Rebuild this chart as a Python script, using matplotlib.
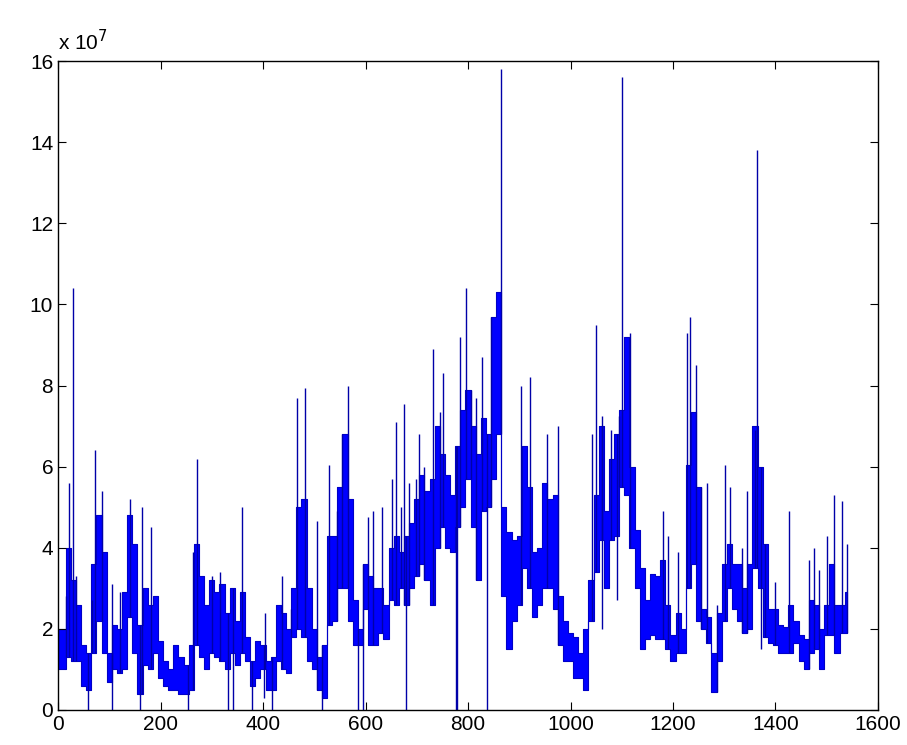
import matplotlib
matplotlib.use("Agg")
import matplotlib.pyplot as plt
import numpy as np

# all values in units of 1e7
# dense band: low / high envelope for blocks of 10 samples (block start 0, 10, ... 1540)
band_lo = [
    1.0, 1.0, 1.3, 1.2, 1.2, 0.6, 0.5, 1.4, 2.2, 1.4,
    0.7, 1.0, 0.9, 1.0, 2.3, 1.4, 0.4, 1.1, 1.0, 1.4,
    0.8, 0.6, 0.5, 0.5, 0.4, 0.4, 0.5, 1.6, 1.3, 1.0,
    1.4, 1.3, 1.2, 1.0, 1.4, 1.1, 1.4, 1.2, 0.6, 0.8,
    1.0, 0.5, 0.5, 1.2, 1.0, 0.9, 1.8, 2.0, 1.8, 1.2,
    1.0, 0.5, 0.3, 2.1, 2.2, 3.0, 3.0, 2.2, 1.6, 1.6,
    2.5, 1.6, 1.6, 1.9, 1.75, 2.7, 2.6, 3.0, 2.6, 3.0,
    3.3, 3.6, 3.2, 2.6, 4.0, 4.5, 4.0, 3.9, 4.5, 5.0,
    5.7, 4.5, 3.2, 4.9, 5.0, 5.7, 6.8, 2.8, 1.5, 2.2,
    2.6, 3.5, 3.0, 2.3, 2.6, 3.0, 3.0, 2.5, 1.6, 1.2,
    1.2, 0.8, 0.8, 0.5, 2.2, 3.4, 4.2, 3.0, 4.2, 4.3,
    5.5, 5.3, 4.0, 3.0, 1.5, 1.75, 1.85, 1.75, 1.75, 1.5,
    1.2, 1.4, 1.4, 3.0, 3.6, 2.2, 2.0, 1.65, 0.45, 1.2,
    2.2, 3.0, 2.5, 2.2, 1.9, 2.0, 3.5, 3.0, 1.8, 1.65,
    1.6, 1.4, 1.4, 1.4, 1.65, 1.2, 1.0, 1.4, 1.5, 1.0,
    1.85, 1.85, 1.4, 1.9, 1.9,
]
band_hi = [
    2.0, 2.0, 4.0, 3.2, 2.6, 1.6, 1.4, 3.6, 4.8, 3.9,
    1.4, 2.1, 2.0, 2.9, 4.8, 4.1, 2.1, 3.0, 2.6, 2.8,
    1.7, 1.2, 1.0, 1.6, 1.3, 1.1, 1.6, 4.1, 3.3, 2.6,
    3.2, 2.9, 3.1, 2.4, 3.0, 2.2, 2.9, 1.8, 1.2, 1.7,
    1.6, 1.2, 1.3, 2.6, 2.4, 2.0, 3.0, 5.0, 5.2, 3.0,
    2.0, 1.3, 1.6, 4.3, 4.3, 5.5, 6.8, 5.2, 2.7, 2.0,
    3.6, 3.3, 3.0, 3.0, 2.6, 4.0, 4.3, 3.9, 4.3, 4.6,
    5.2, 5.8, 5.4, 5.7, 7.0, 6.3, 5.8, 5.3, 6.5, 7.4,
    7.9, 7.0, 6.3, 7.2, 6.8, 9.7, 10.3, 5.0, 4.4, 4.2,
    4.3, 6.5, 5.5, 3.9, 4.0, 5.6, 5.2, 5.3, 2.8, 2.2,
    1.9, 1.8, 1.4, 2.0, 3.2, 5.3, 7.0, 4.9, 6.2, 6.8,
    7.4, 9.2, 6.0, 4.45, 3.5, 2.7, 3.35, 3.3, 3.7, 2.6,
    1.85, 2.4, 2.0, 6.05, 7.35, 5.5, 2.5, 2.3, 1.4, 2.4,
    3.6, 4.1, 3.6, 3.6, 3.0, 3.6, 7.0, 6.0, 4.1, 2.5,
    2.5, 2.1, 2.05, 2.6, 2.2, 1.85, 1.75, 2.7, 2.6, 2.0,
    2.6, 3.6, 2.6, 2.6, 2.9,
]
band_x = np.arange(len(band_lo)) * 10

# single-sample spikes above the band: (sample index, value)
spike_x = [15, 22, 29, 36, 66, 73, 85, 106, 120, 140, 163, 181, 264, 271, 300,
           316, 358, 404, 437, 455, 467, 481, 506, 529, 545, 555, 565, 605, 615,
           632, 651, 660, 670, 675, 685, 698, 705, 715, 732, 745, 752, 784, 796,
           805, 815, 827, 845, 864, 903, 920, 954, 976, 1042, 1050, 1062, 1080,
           1095, 1100, 1116, 1180, 1190, 1210, 1227, 1233, 1245, 1255, 1266,
           1285, 1302, 1311, 1335, 1345, 1360, 1364, 1380, 1400, 1426, 1465,
           1475, 1485, 1500, 1514, 1529, 1540]
spike_y = [2.8, 5.6, 10.4, 3.3, 2.7, 6.4, 5.4, 3.1, 2.9, 5.2, 5.0, 4.5, 3.9, 6.2,
           3.3, 3.4, 5.0, 2.4, 3.3, 2.5, 7.7, 7.95, 4.65, 6.05, 4.9, 6.8, 8.0,
           4.75, 4.9, 5.0, 5.7, 7.1, 5.0, 7.55, 5.6, 5.7, 6.8, 6.0, 8.9, 7.35,
           8.3, 9.2, 10.4, 7.9, 7.7, 8.7, 9.7, 15.8, 8.0, 8.2, 6.8, 7.0, 6.8,
           9.5, 7.25, 6.9, 7.25, 15.6, 9.3, 4.9, 4.3, 3.9, 9.3, 9.7, 8.5, 5.5,
           5.6, 2.6, 6.05, 5.5, 4.0, 5.4, 6.9, 13.8, 4.1, 3.15, 4.9, 3.7, 4.0,
           3.45, 4.3, 5.3, 5.15, 4.1]

# single-sample drops below the band: (sample index, value)
dip_x = [59, 105, 160, 254, 332, 342, 378, 401, 418, 516, 586, 596, 679, 776,
         779, 837, 1062, 1090, 1372]
dip_y = [0.0, 0.0, 0.0, 0.0, 0.0, 0.0, 0.0, 0.3, 0.0, 0.0, 0.0, 0.0, 0.0, 0.0,
         0.0, 0.0, 2.0, 2.7, 1.5]

xticks = [0, 200, 400, 600, 800, 1000, 1200, 1400, 1600]
yticks = [0, 2, 4, 6, 8, 10, 12, 14, 16]

plt.rcParams['font.family'] = ['Liberation Sans', 'DejaVu Sans']

fig = plt.figure(figsize=(9.07, 7.45), dpi=100)
ax = fig.add_axes([0.064, 0.047, 0.904, 0.871])

lo = np.array(band_lo)
hi = np.array(band_hi)
ax.fill_between(band_x, lo, hi, step='mid', color='b', linewidth=0.8,
                edgecolor='#0000c8')

# spikes start from the band at that block
blk = np.clip(np.round(np.array(spike_x) / 10).astype(int), 0, len(lo) - 1)
ax.vlines(spike_x, lo[blk], spike_y, color='#0000a8', linewidth=1.0)
blk = np.clip(np.round(np.array(dip_x) / 10).astype(int), 0, len(lo) - 1)
ax.vlines(dip_x, dip_y, hi[blk], color='#0000a8', linewidth=1.0)

ax.set_xlim(0, 1600)
ax.set_ylim(0, 16)
ax.set_xticks(xticks)
ax.set_yticks(yticks)
ax.tick_params(direction='in', top=True, right=True, labelsize=15, length=6)
for s in ax.spines.values():
    s.set_linewidth(1.0)
ax.text(0.0, 1.01, r'x 10$^7$', transform=ax.transAxes, fontsize=15,
        ha='left', va='bottom')

fig.savefig('out.png', dpi=100)
